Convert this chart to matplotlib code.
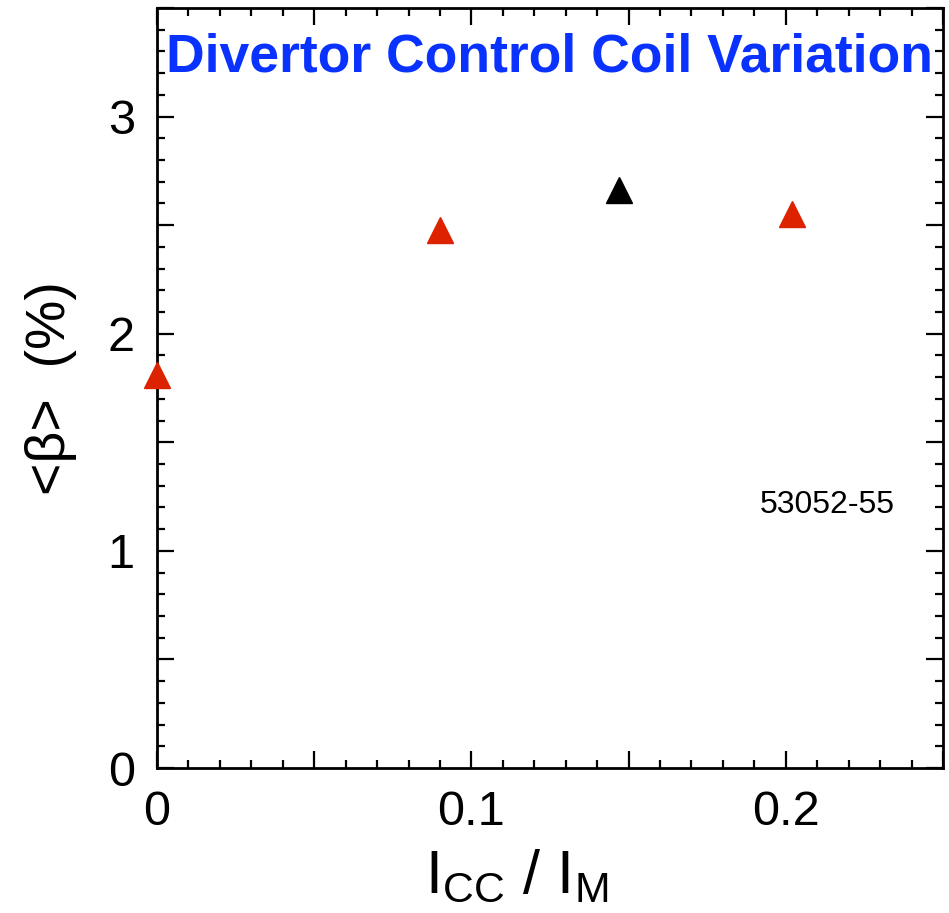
import matplotlib
matplotlib.use('Agg')
import matplotlib.pyplot as plt
from matplotlib.ticker import MultipleLocator, FuncFormatter

# coil current ratio vs average beta, shots 53052-55
icc_ratio = [0.0, 0.09, 0.202]
beta_avg = [1.81, 2.48, 2.55]
ref_ratio = [0.147]
ref_beta = [2.66]

plt.rcParams['font.family'] = ['Liberation Sans', 'DejaVu Sans']

fig = plt.figure(figsize=(9.49, 9.13), dpi=100)
ax = fig.add_axes([0.1654, 0.1588, 0.8283, 0.8324])

ax.plot(icc_ratio, beta_avg, linestyle='none', marker='^', markersize=19,
        color='#dd2200', clip_on=False, zorder=5)
ax.plot(ref_ratio, ref_beta, linestyle='none', marker='^', markersize=19,
        color='black', clip_on=False, zorder=5)

ax.set_xlim(0, 0.25)
ax.set_ylim(0, 3.5)

ax.xaxis.set_major_locator(MultipleLocator(0.05))
ax.xaxis.set_minor_locator(MultipleLocator(0.01))
ax.yaxis.set_major_locator(MultipleLocator(0.5))
ax.yaxis.set_minor_locator(MultipleLocator(0.1))

def xfmt(v, pos):
    if abs(v) < 1e-9:
        return '0'
    if abs(round(v * 10) - v * 10) < 1e-6:
        return '%.1f' % v
    return ''

def yfmt(v, pos):
    if abs(v - round(v)) < 1e-6:
        return '%d' % round(v)
    return ''

ax.xaxis.set_major_formatter(FuncFormatter(xfmt))
ax.yaxis.set_major_formatter(FuncFormatter(yfmt))

ax.tick_params(which='both', direction='in', top=True, right=True, width=1.6)
ax.tick_params(which='major', length=12, labelsize=35, pad=16)
ax.tick_params(which='minor', length=6)
for s in ax.spines.values():
    s.set_linewidth(2)

ax.set_xlabel(r'I$_{\mathregular{CC}}$ / I$_{\mathregular{M}}$', fontsize=44, labelpad=10)
ax.xaxis.label.set_x(0.458)
ax.set_ylabel('<β>  (%)', fontsize=40, labelpad=22)

ax.text(0.5, 0.968, 'Divertor Control Coil Variation', transform=ax.transAxes,
        ha='center', va='top', fontsize=38.5, fontweight='bold', color='#0a32ff',
        family=['Liberation Sans Narrow', 'Liberation Sans', 'DejaVu Sans'])
ax.text(0.939, 0.346, '53052-55', transform=ax.transAxes, ha='right', va='center',
        fontsize=23)

fig.savefig('out.png', dpi=100)
